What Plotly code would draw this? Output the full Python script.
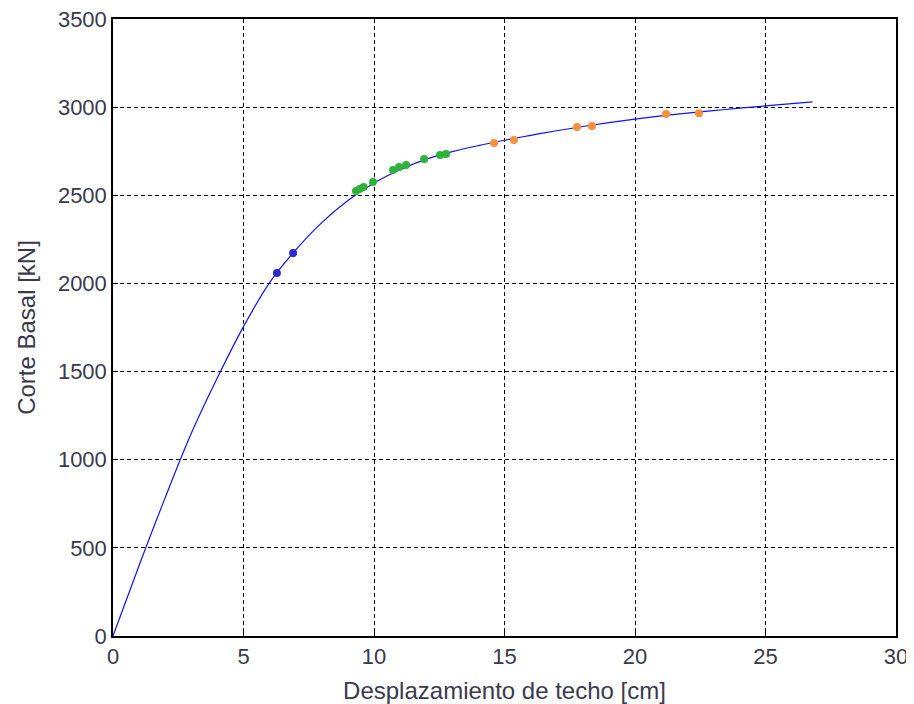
import plotly.graph_objects as go

# Pushover curve
curve_x = [0, 1, 2, 3, 4, 5, 6, 7, 8, 9, 10, 11, 12, 13, 14, 15, 16, 17, 18, 19, 20, 21, 22, 23, 24, 25, 26, 26.8]
curve_y = [0, 400, 785, 1150, 1465, 1755, 2005, 2190, 2345, 2470, 2570, 2645, 2705, 2748, 2782, 2812, 2840, 2866, 2890, 2912, 2932, 2950, 2966, 2980, 2994, 3007, 3020, 3030]

blue_x = [6.28, 6.9]
blue_y = [2059, 2172]

green_x = [9.31, 9.45, 9.6, 9.96, 10.73, 10.96, 11.23, 11.92, 12.53, 12.76]
green_y = [2524, 2535, 2547, 2575, 2643, 2660, 2672, 2706, 2728, 2734]

orange_x = [14.6, 15.36, 17.78, 18.35, 21.19, 22.45]
orange_y = [2796, 2813, 2887, 2893, 2961, 2966]

x_ticks = [0, 5, 10, 15, 20, 25, 30]
y_ticks = [0, 500, 1000, 1500, 2000, 2500, 3000, 3500]

FONT = "Liberation Sans, Arial"
TXT = "#3a3a4c"

fig = go.Figure()
fig.add_trace(go.Scatter(x=curve_x, y=curve_y, mode="lines",
                         line=dict(color="#1010ff", width=1.2), line_shape="spline",
                         showlegend=False, hoverinfo="skip"))
fig.add_trace(go.Scatter(x=blue_x, y=blue_y, mode="markers",
                         marker=dict(color="#2b2bd6", size=8), showlegend=False))
fig.add_trace(go.Scatter(x=green_x, y=green_y, mode="markers",
                         marker=dict(color="#2eb23a", size=8), showlegend=False))
fig.add_trace(go.Scatter(x=orange_x, y=orange_y, mode="markers",
                         marker=dict(color="#f5913d", size=8), showlegend=False))

axis_common = dict(
    showgrid=True, gridcolor="#000000", griddash="4px,3px", gridwidth=1,
    showline=True, linecolor="#000000", linewidth=1.5, mirror=True,
    ticks="inside", ticklen=5, tickcolor="#000000",
    zeroline=False, automargin=False, ticklabeloverflow="allow",
    tickfont=dict(family=FONT, size=22, color=TXT),
)

fig.update_xaxes(range=[0, 30], tickvals=x_ticks,
                 title=dict(text="Desplazamiento de techo [cm]", standoff=14,
                            font=dict(family=FONT, size=24, color=TXT)),
                 **axis_common)
fig.update_yaxes(range=[0, 3500], tickvals=y_ticks,
                 title=dict(text="Corte Basal [kN]", standoff=15,
                            font=dict(family=FONT, size=24, color=TXT)),
                 **axis_common)

fig.update_layout(
    width=906, height=696,
    margin=dict(l=105, r=18, t=11, b=68),
    plot_bgcolor="white", paper_bgcolor="white",
)

fig.write_html("out.html")
